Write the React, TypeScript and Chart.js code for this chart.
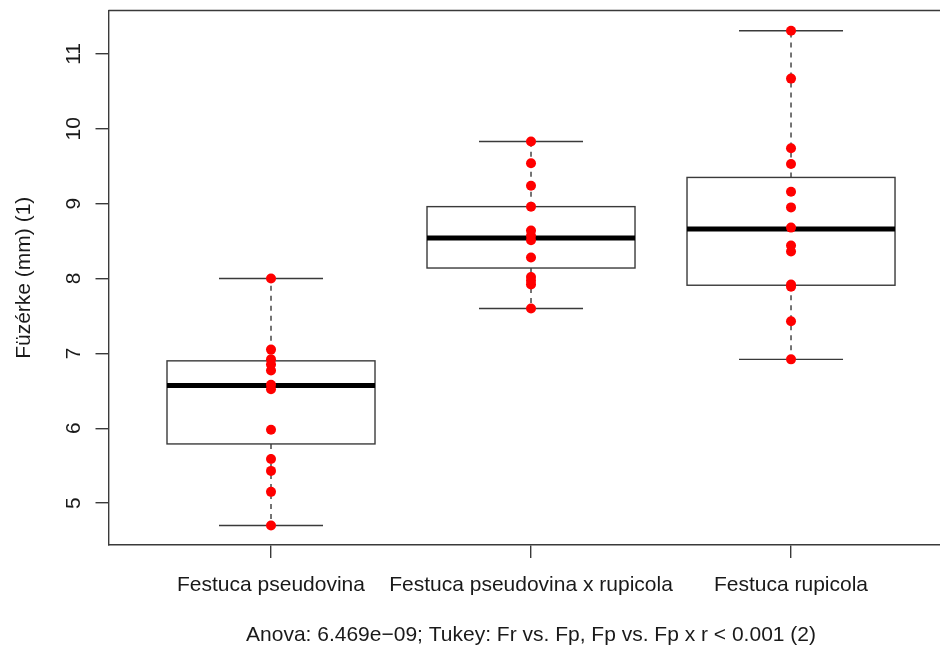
import React, { useEffect, useRef } from "react";
import { Chart, registerables } from "chart.js";

Chart.register(...registerables);

// ---- data ----
const categories = ["Festuca pseudovina", "Festuca pseudovina x rupicola", "Festuca rupicola"];
const pseudovina = [8.0, 7.05, 6.92, 6.85, 6.77, 6.58, 6.52, 5.98, 5.59, 5.43, 5.15, 4.7];
const hybrid = [9.83, 9.54, 9.24, 8.96, 8.64, 8.57, 8.51, 8.28, 8.02, 7.97, 7.92, 7.6];
const rupicola = [11.31, 10.67, 9.74, 9.53, 9.16, 8.95, 8.68, 8.44, 8.36, 7.92, 7.89, 7.43, 6.92];
const whiskerLow = [4.7, 7.6, 6.92];
const q1 = [5.79, 8.14, 7.91];
const median = [6.57, 8.54, 8.66];
const q3 = [6.9, 8.96, 9.35];
const whiskerHigh = [8.0, 9.83, 11.31];
const yTicks = [5, 6, 7, 8, 9, 10, 11];
const yTitle = "Füzérke (mm) (1)";
const subtitle = "Anova: 6.469e\u221209; Tukey: Fr vs. Fp, Fp vs. Fp x r < 0.001 (2)";

const groups = [pseudovina, hybrid, rupicola];

const FONT = '"Liberation Sans", Arial, sans-serif';
const FS = 21;
const LINE = "#3a3a3a";
const TEXT = "#1a1a1a";

const boxPlugin = {
  id: "boxes",
  beforeDatasetsDraw(chart: any) {
    const { ctx, scales } = chart;
    const x = scales.x;
    const y = scales.y;
    const boxHalf = 0.4;
    const capHalf = 0.2;
    ctx.save();
    for (let i = 0; i < categories.length; i++) {
      const cx = x.getPixelForValue(i);
      const bl = x.getPixelForValue(i - boxHalf);
      const br = x.getPixelForValue(i + boxHalf);
      const cl = x.getPixelForValue(i - capHalf);
      const cr = x.getPixelForValue(i + capHalf);
      const yLo = y.getPixelForValue(whiskerLow[i]);
      const yQ1 = y.getPixelForValue(q1[i]);
      const yMed = y.getPixelForValue(median[i]);
      const yQ3 = y.getPixelForValue(q3[i]);
      const yHi = y.getPixelForValue(whiskerHigh[i]);

      ctx.strokeStyle = LINE;
      ctx.lineWidth = 1.4;
      ctx.setLineDash([5, 5]);
      ctx.beginPath();
      ctx.moveTo(cx, yQ3);
      ctx.lineTo(cx, yHi);
      ctx.moveTo(cx, yQ1);
      ctx.lineTo(cx, yLo);
      ctx.stroke();
      ctx.setLineDash([]);
      ctx.beginPath();
      ctx.moveTo(cl, yHi);
      ctx.lineTo(cr, yHi);
      ctx.moveTo(cl, yLo);
      ctx.lineTo(cr, yLo);
      ctx.stroke();
      ctx.fillStyle = "#ffffff";
      ctx.fillRect(bl, yQ3, br - bl, yQ1 - yQ3);
      ctx.strokeRect(bl, yQ3, br - bl, yQ1 - yQ3);
      ctx.strokeStyle = "#000000";
      ctx.lineWidth = 5;
      ctx.beginPath();
      ctx.moveTo(bl, yMed);
      ctx.lineTo(br, yMed);
      ctx.stroke();
    }
    ctx.restore();
  },
};

const textPlugin = {
  id: "texts",
  afterDraw(chart: any) {
    const { ctx, scales, chartArea, width } = chart;
    const x = scales.x;
    const y = scales.y;
    ctx.save();
    ctx.strokeStyle = LINE;
    ctx.lineWidth = 1.4;
    ctx.beginPath();
    ctx.moveTo(chartArea.left, chartArea.top);
    ctx.lineTo(width, chartArea.top);
    ctx.stroke();

    ctx.fillStyle = TEXT;
    ctx.font = `${FS}px ${FONT}`;
    ctx.textAlign = "center";
    ctx.textBaseline = "alphabetic";
    for (const t of y.ticks) {
      const py = y.getPixelForValue(t.value);
      ctx.save();
      ctx.translate(80, py);
      ctx.rotate(-Math.PI / 2);
      ctx.fillText(String(t.value), 0, 0);
      ctx.restore();
    }
    ctx.save();
    ctx.translate(30, (chartArea.top + chartArea.bottom) / 2);
    ctx.rotate(-Math.PI / 2);
    ctx.fillText(yTitle, 0, 0);
    ctx.restore();
    ctx.fillText(subtitle, x.getPixelForValue(1), 641);
    ctx.restore();
  },
};

export default function App() {
  const ref = useRef<HTMLCanvasElement | null>(null);
  useEffect(() => {
    if (!ref.current) return;
    const chart = new Chart(ref.current, {
      type: "scatter",
      data: {
        datasets: [
          {
            data: groups.flatMap((g, i) => g.map((v) => ({ x: i, y: v }))),
            backgroundColor: "#ff0000",
            borderWidth: 0,
            pointRadius: 5,
            pointHoverRadius: 5,
          },
        ],
      },
      options: {
        animation: false,
        responsive: false,
        events: [],
        layout: { autoPadding: false, padding: { top: 10.5, left: 0, right: 0, bottom: 0 } },
        plugins: { legend: { display: false }, tooltip: { enabled: false } },
        scales: {
          x: {
            type: "linear",
            min: -0.625,
            max: 2.573,
            afterBuildTicks: (s: any) => {
              s.ticks = categories.map((_, i) => ({ value: i }));
            },
            afterFit: (s: any) => {
              s.height = 104;
            },
            ticks: {
              autoSkip: false,
              maxRotation: 0,
              minRotation: 0,
              padding: 15,
              color: TEXT,
              font: { family: FONT, size: FS },
              callback: (_v: any, i: number) => categories[i],
            },
            grid: { drawOnChartArea: false, drawTicks: true, tickLength: 13, color: LINE, lineWidth: 1.4 },
            border: { display: true, color: LINE, width: 1.4 },
          },
          y: {
            type: "linear",
            min: 4.44,
            max: 11.58,
            afterBuildTicks: (s: any) => {
              s.ticks = yTicks.map((v) => ({ value: v }));
            },
            afterFit: (s: any) => {
              s.width = 108.5;
            },
            ticks: { display: false },
            grid: { drawOnChartArea: false, drawTicks: true, tickLength: 13, color: LINE, lineWidth: 1.4 },
            border: { display: true, color: LINE, width: 1.4 },
          },
        },
      },
      plugins: [boxPlugin, textPlugin],
    } as any);
    return () => chart.destroy();
  }, []);
  return (
    <div style={{ position: "fixed", left: 0, top: 0, width: 940, height: 649, background: "#fff" }}>
      <canvas ref={ref} width={940} height={649} style={{ display: "block" }} />
    </div>
  );
}
